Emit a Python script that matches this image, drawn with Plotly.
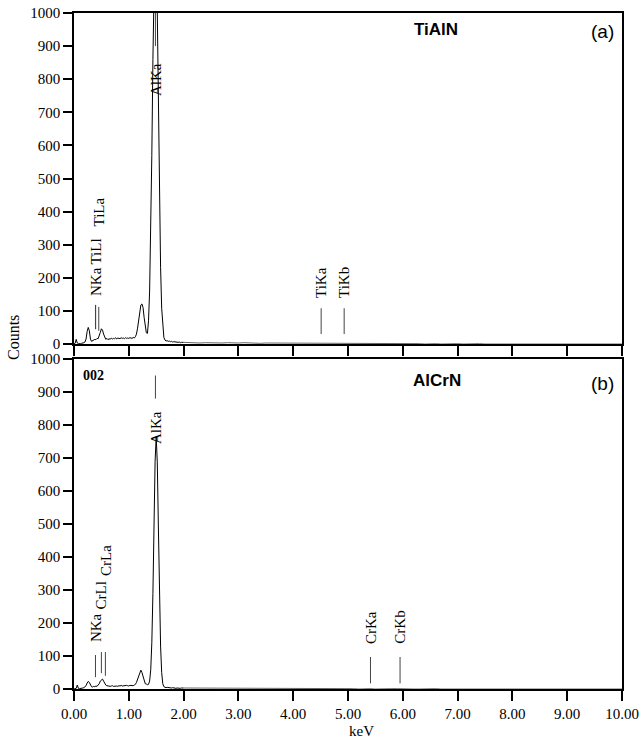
import plotly.graph_objects as go

# ---------------- data ----------------
ev_low = [round(i * 0.02, 2) for i in range(101)]          # 0.00 .. 2.00 keV
ev_tail = [round(2.0 + i * 0.1, 1) for i in range(1, 81)]  # 2.1 .. 10.0 keV

tialn_low = [0, 2, 14, 3, 1, 0, 1, 2, 2, 4,
             6, 15, 38, 50, 40, 15, 8, 10, 12, 14,
             13, 17, 16, 24, 35, 46, 42, 30, 20, 14,
             17, 13, 16, 14, 18, 15, 17, 16, 19, 15,
             18, 17, 16, 19, 17, 18, 16, 19, 17, 18,
             17, 19, 18, 17, 20, 18, 22, 30, 48, 75,
             100, 118, 121, 110, 80, 50, 34, 32, 70, 160,
             325, 570, 860, 1120, 1255, 1210, 1000, 712, 436, 232,
             108, 45, 20, 12, 9, 10, 8, 9, 7, 8,
             6, 7, 6, 5, 6, 5, 6, 4, 5, 4,
             5]
tialn_tail = [4, 5, 3, 4, 3, 4, 3, 4, 3, 3,
              4, 3, 3, 2, 3, 3, 2, 3, 2, 3,
              2, 2, 3, 2, 3, 2, 2, 3, 2, 2,
              1, 2, 1, 2, 1, 1, 2, 1, 1, 1,
              2, 1, 1, 0, 1, 1, 0, 1, 0, 1,
              0, 1, 0, 1, 0, 0, 0, 0, 0, 0,
              0, 0, 0, 0, 0, 0, 0, 0, 0, 0,
              0, 0, 0, 0, 0, 0, 0, 0, 0, 0]

alcrn_low = [0, 1, 2, 12, 2, 1, 1, 2, 3, 4,
             6, 10, 18, 23, 20, 11, 7, 6, 8, 7,
             9, 8, 12, 16, 24, 29, 30, 24, 16, 12,
             10, 9, 10, 8, 9, 10, 8, 9, 10, 9,
             8, 10, 9, 11, 9, 10, 9, 10, 11, 10,
             9, 11, 10, 11, 10, 12, 14, 20, 30, 42,
             52, 57, 50, 40, 25, 16, 15, 13, 14, 24,
             58, 140, 290, 498, 690, 765, 685, 491, 282, 130,
             50, 16, 7, 5, 4, 5, 4, 3, 4, 3,
             4, 3, 3, 2, 3, 2, 3, 2, 3, 2,
             3]
alcrn_tail = [3, 2, 3, 2, 3, 2, 2, 3, 2, 2,
              2, 3, 2, 2, 1, 2, 2, 1, 2, 1,
              2, 1, 1, 2, 1, 1, 2, 1, 1, 1,
              1, 0, 1, 1, 0, 1, 0, 1, 1, 0,
              1, 0, 0, 1, 0, 1, 0, 0, 1, 0,
              0, 1, 0, 0, 1, 0, 0, 0, 0, 0,
              0, 0, 0, 0, 0, 0, 0, 0, 0, 0,
              0, 0, 0, 0, 0, 0, 0, 0, 0, 0]

# emission-line markers
tialn_names = ["NKa", "TiLl", "TiLa", "AlKa", "TiKa", "TiKb"]
tialn_kev = [0.392, 0.395, 0.452, 1.486, 4.51, 4.93]
tialn_mark_lo = [45, 45, 40, 900, 30, 30]
tialn_mark_hi = [118, 118, 112, 1000, 108, 108]
tialn_label_y = [142, 236, 353, 746, 135, 135]

alcrn_names = ["NKa", "CrLl", "CrLa", "AlKa", "CrKa", "CrKb"]
alcrn_kev = [0.392, 0.500, 0.573, 1.486, 5.41, 5.95]
alcrn_mark_lo = [36, 48, 40, 880, 17, 17]
alcrn_mark_hi = [103, 112, 112, 950, 97, 97]
alcrn_label_y = [139, 239, 339, 739, 133, 133]

x_ticks = [0, 1, 2, 3, 4, 5, 6, 7, 8, 9, 10]
x_ticktext = ["0.00", "1.00", "2.00", "3.00", "4.00", "5.00",
              "6.00", "7.00", "8.00", "9.00", "10.00"]
y_ticks = [0, 100, 200, 300, 400, 500, 600, 700, 800, 900, 1000]

# ---------------- figure ----------------
SERIF = "Liberation Serif"
SANS = "Liberation Sans"
W, H = 639, 740
ML, MR, MT, MB = 74, 17, 13, 51
ph = H - MT - MB
pw = W - ML - MR
top_dom = [(689 - 344) / ph, 1.0]
bot_dom = [0.0, (689 - 359) / ph]

fig = go.Figure()


def seg(xs, lo, hi):
    X, Y = [], []
    for x, a, b in zip(xs, lo, hi):
        X += [x, x, None]
        Y += [a, b, None]
    return X, Y


panels = [
    ("x", "y", tialn_low, tialn_tail, tialn_names, tialn_kev, tialn_mark_lo, tialn_mark_hi, tialn_label_y),
    ("x2", "y2", alcrn_low, alcrn_tail, alcrn_names, alcrn_kev, alcrn_mark_lo, alcrn_mark_hi, alcrn_label_y),
]

for xa, ya, low, tail, names, kev, lo, hi, ly in panels:
    fig.add_trace(go.Scatter(x=ev_low, y=low, xaxis=xa, yaxis=ya, mode="lines",
                             line=dict(color="black", width=1), showlegend=False,
                             hoverinfo="skip"))
    fig.add_trace(go.Scatter(x=[ev_low[-1]] + ev_tail, y=[low[-1]] + tail, xaxis=xa, yaxis=ya,
                             mode="lines", line=dict(color="#666666", width=1),
                             showlegend=False, hoverinfo="skip"))
    mx, my = seg(kev, lo, hi)
    fig.add_trace(go.Scatter(x=mx, y=my, xaxis=xa, yaxis=ya, mode="lines",
                             line=dict(color="#444444", width=1), showlegend=False,
                             hoverinfo="skip"))
    for name, k, yv in zip(names, kev, ly):
        fig.add_annotation(x=k, y=yv, xref=xa, yref=ya, text=name, showarrow=False,
                           textangle=-90, xanchor="center", yanchor="bottom",
                           borderpad=0,
                           font=dict(family=SERIF, size=15, color="black"))

axis_common = dict(range=[0, 10], showgrid=False, zeroline=False, showline=True,
                   linecolor="black", linewidth=1.5, mirror=True, ticks="outside",
                   ticklen=10, tickwidth=1.5, tickcolor="black",
                   tickvals=x_ticks, ticktext=x_ticktext, automargin=False,
                   tickfont=dict(family=SERIF, size=15, color="black"))
yaxis_common = dict(range=[0, 1000], showgrid=False, zeroline=False, showline=True,
                    linecolor="black", linewidth=1.5, mirror=True, ticks="outside",
                    ticklen=9, tickwidth=1.5, tickcolor="black", tickvals=y_ticks,
                    automargin=False, tickfont=dict(family=SERIF, size=15, color="black"))

fig.update_layout(
    width=W, height=H,
    margin=dict(l=ML, r=MR, t=MT, b=MB),
    paper_bgcolor="white", plot_bgcolor="white",
    xaxis=dict(axis_common, anchor="y", showticklabels=False),
    yaxis=dict(yaxis_common, domain=top_dom, anchor="x"),
    xaxis2=dict(axis_common, anchor="y2"),
    yaxis2=dict(yaxis_common, domain=bot_dom, anchor="x2"),
)

# panel titles
fig.add_annotation(x=6.61, y=949, xref="x", yref="y", text="<b>TiAlN</b>", showarrow=False,
                   font=dict(family=SANS, size=17, color="black"))
fig.add_annotation(x=9.65, y=943, xref="x", yref="y", text="(a)", showarrow=False,
                   font=dict(family=SANS, size=19, color="black"))
fig.add_annotation(x=6.62, y=936, xref="x2", yref="y2", text="<b>AlCrN</b>", showarrow=False,
                   font=dict(family=SANS, size=17, color="black"))
fig.add_annotation(x=9.65, y=927, xref="x2", yref="y2", text="(b)", showarrow=False,
                   font=dict(family=SANS, size=19, color="black"))
fig.add_annotation(x=0.35, y=951, xref="x2", yref="y2", text="<b>002</b>", showarrow=False,
                   font=dict(family=SERIF, size=14, color="black"))

# axis titles
fig.add_annotation(x=(14 - ML) / pw, y=(689 - 338) / ph, xref="paper", yref="paper",
                   xanchor="center", yanchor="middle",
                   text="Counts", showarrow=False, textangle=-90,
                   font=dict(family=SERIF, size=16, color="black"))
fig.add_annotation(x=(361 - ML) / pw, y=(689 - 731) / ph, xref="paper", yref="paper",
                   xanchor="center", yanchor="middle",
                   text="keV", showarrow=False,
                   font=dict(family=SERIF, size=15, color="black"))

fig.write_html("out.html", config={"displayModeBar": False},
               post_script="document.body.style.margin='0';document.body.style.padding='0';")
